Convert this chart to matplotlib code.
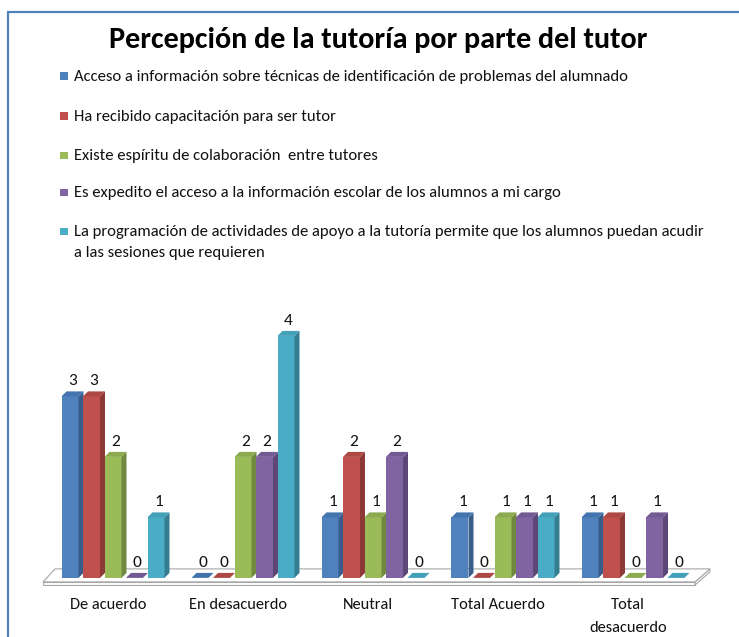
import matplotlib
matplotlib.use('Agg')
import matplotlib.pyplot as plt
from matplotlib.patches import Polygon, Rectangle
from matplotlib import font_manager
import numpy as np

# Datos
categorias = ['De acuerdo', 'En desacuerdo', 'Neutral', 'Total Acuerdo', 'Total\ndesacuerdo']
series = [
    'Acceso a información sobre técnicas de identificación de problemas del alumnado',
    'Ha recibido capacitación para ser tutor',
    'Existe espíritu de colaboración  entre tutores',
    'Es expedito el acceso a la información escolar de los alumnos a mi cargo',
    'La programación de actividades de apoyo a la tutoría permite que los alumnos puedan acudir\na las sesiones que requieren',
]
acceso_info = [3, 0, 1, 1, 1]
capacitacion = [3, 0, 2, 0, 1]
colaboracion = [2, 2, 1, 1, 0]
expedito = [0, 2, 2, 1, 1]
programacion = [1, 4, 0, 1, 0]
valores = [acceso_info, capacitacion, colaboracion, expedito, programacion]

# Colores (frente, lado, tapa)
frente = ['#4F81BD', '#C0504D', '#9BBB59', '#8064A2', '#4BACC6']
lado = ['#385D8A', '#8C3836', '#71893F', '#5C4776', '#357D91']
tapa = ['#4474AE', '#AE4845', '#8CAA4F', '#735A93', '#43A0B8']

disponibles = {f.name for f in font_manager.fontManager.ttflist}
fuente = 'DejaVu Sans'
for f in ['Carlito', 'Calibri', 'Lato', 'Open Sans']:
    if f in disponibles:
        fuente = f
        break
plt.rcParams['font.family'] = [fuente, 'DejaVu Sans']

W, H = 739, 637
fig = plt.figure(figsize=(W / 100, H / 100), dpi=100)

# marco azul (solo arriba e izquierda visibles)
fig.add_artist(Rectangle((8 / W, -0.2), 1.2, 1.2 - 12 / H, transform=fig.transFigure,
                         fill=False, edgecolor='#4F81BD', linewidth=1.6))

# ejes: 130 px por categoría, 60.5 px por unidad
x0_px, y0_px = 35, 590
ax = fig.add_axes([x0_px / W, (H - y0_px) / H, 676 / W, 284.35 / H])
ax.set_xlim(-0.6, 4.6)
ax.set_ylim(-0.2, 4.5)
ax.axis('off')

paso = 21.5 / 130
ancho = 17 / 130
dx = 5 / 130
dy = 5 / 60.5
x = np.arange(len(categorias))

# piso
fy, by = -4 / 60.5, 9 / 60.5
fl, fr = -0.538, 4.477
bl, br = -0.446, 4.592
grosor = 3 / 60.5
ax.add_patch(Polygon([(fl, fy - grosor), (fr, fy - grosor), (fr, fy), (fl, fy)],
                     closed=True, facecolor='white', edgecolor='#A6A6A6', lw=0.8, zorder=1))
ax.add_patch(Polygon([(fr, fy - grosor), (br, by - grosor), (br, by), (fr, fy)],
                     closed=True, facecolor='white', edgecolor='#A6A6A6', lw=0.8, zorder=1))
ax.add_patch(Polygon([(fl, fy), (fr, fy), (br, by), (bl, by)],
                     closed=True, facecolor='white', edgecolor='#A6A6A6', lw=0.8, zorder=1))

for j, vals in enumerate(valores):
    xs = x + (j - 2) * paso
    ax.bar(xs, vals, ancho, color=frente[j], edgecolor='none', zorder=3)
    for xc, v in zip(xs, vals):
        r = xc + ancho / 2
        l = xc - ancho / 2
        ax.add_patch(Polygon([(r, 0), (r + dx, dy), (r + dx, v + dy), (r, v)],
                             closed=True, facecolor=lado[j], edgecolor='none', zorder=3))
        ax.add_patch(Polygon([(l, v), (r, v), (r + dx, v + dy), (l + dx, v + dy)],
                             closed=True, facecolor=tapa[j], edgecolor='none', zorder=3))
        ax.text(xc + dx / 2, v + dy + 0.05, str(v), ha='center', va='bottom',
                fontsize=12.5, color='#111111', zorder=5)

for i, c in enumerate(categorias):
    ax.text(i - 0.04, -0.33, c, ha='center', va='top', fontsize=11.8, color='#111111',
            linespacing=1.85)

fig.text(378 / W, 1 - 40 / H, 'Percepción de la tutoría por parte del tutor',
         ha='center', va='center', fontsize=21.7, fontweight='bold', color='black')

# leyenda
filas = [76, 116, 155, 192, 231]
for j, (s, yy) in enumerate(zip(series, filas)):
    fig.patches.append(Rectangle((60 / W, 1 - (yy + 4) / H), 7.5 / W, 7.5 / H,
                                 transform=fig.transFigure, facecolor=frente[j],
                                 edgecolor='none'))
    fig.text(74 / W, 1 - (yy - 6) / H, s, ha='left', va='top', fontsize=12,
             color='#111111', linespacing=1.6)

fig.savefig('out.png', dpi=100)
